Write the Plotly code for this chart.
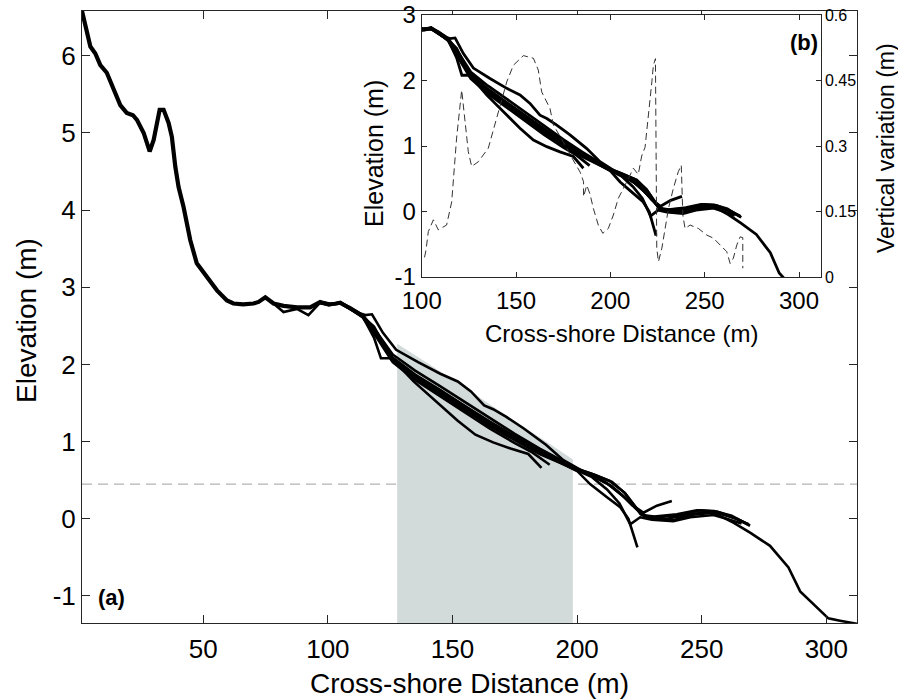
import plotly.graph_objects as go

# ---------------- data ----------------
# common back-beach part of all surveyed profiles (Elevation, m)
backshore_x = [1.35, 3.6, 4.7, 6.7, 8.7, 11.3, 14.0, 16.7, 19.3, 21.8, 23.4, 26.1, 28.5,
               30.1, 32.5, 34.1, 36.1, 37.4, 38.8, 40.1, 42.1, 44.8, 47.4, 51.4, 55.5,
               59.5, 62.1, 66.0, 70.2, 72.2, 74.9, 78.2, 82.2, 87.6, 92.9, 96.9, 100.9]
backshore_y = [6.58, 6.25, 6.12, 6.03, 5.88, 5.78, 5.58, 5.36, 5.26, 5.23, 5.17, 5.00, 4.76,
               4.91, 5.30, 5.30, 5.13, 4.95, 4.56, 4.30, 4.04, 3.61, 3.31, 3.13, 2.96,
               2.83, 2.79, 2.78, 2.79, 2.81, 2.87, 2.79, 2.76, 2.74, 2.74, 2.81, 2.77]

survey_a_x = [97, 101, 105, 109, 113, 115, 117.7, 122.1, 127.4, 136.2, 145.1, 152.1, 157.4,
              162.7, 166.3, 171.6, 178.6, 187.5, 194.5, 201.6, 207, 214, 219.3, 222.8, 225.5,
              228.1, 235.2, 242.3, 249.3, 256.4, 261.7, 268.8]
survey_a_y = [2.80, 2.78, 2.81, 2.74, 2.66, 2.64, 2.65, 2.41, 2.19, 2.03, 1.88, 1.78, 1.65,
              1.47, 1.42, 1.32, 1.17, 0.96, 0.76, 0.63, 0.57, 0.48, 0.33, 0.18, 0.06,
              0.02, 0.03, 0.05, 0.11, 0.09, 0.03, -0.07]

survey_b_x = [97, 101, 105, 109, 114, 118.5, 125.6, 134.4, 143.3, 152.1, 159.2, 166.3,
              173.3, 180.4, 185.7]
survey_b_y = [2.79, 2.77, 2.79, 2.71, 2.62, 2.49, 2.08, 1.78, 1.52, 1.27, 1.09, 0.99,
              0.91, 0.84, 0.66]

survey_c_x = [97, 101, 105, 109, 114, 118.6, 121.3, 124.9, 130, 140, 150, 160, 170, 180,
              190, 200, 205.2, 212, 217.3, 220.6, 222.6, 224.2]
survey_c_y = [2.81, 2.79, 2.80, 2.72, 2.62, 2.34, 2.08, 2.08, 1.95, 1.72, 1.52, 1.33, 1.14,
              0.96, 0.78, 0.62, 0.45, 0.28, 0.15, 0.00, -0.20, -0.37]

survey_d_x = [97, 101, 105, 109, 114, 120, 126, 135, 145, 155, 165, 175, 185, 195, 200,
              206, 212, 217, 221.3, 225.3, 230, 238.6, 245.4, 254.7, 260, 266]
survey_d_y = [2.80, 2.78, 2.80, 2.73, 2.63, 2.35, 2.06, 1.83, 1.62, 1.40, 1.20, 1.02, 0.84,
              0.70, 0.63, 0.54, 0.38, 0.20, -0.07, 0.02, -0.01, -0.03, 0.02, 0.05, 0.00, -0.06]

survey_e_x = [97, 101, 105, 109, 114, 120, 126, 135, 145, 155, 165, 175, 185, 195, 200,
              206, 212, 218, 222, 226.6, 232, 238]
survey_e_y = [2.80, 2.78, 2.79, 2.72, 2.62, 2.37, 2.09, 1.87, 1.67, 1.46, 1.25, 1.06, 0.88,
              0.72, 0.64, 0.56, 0.46, 0.31, 0.18, 0.08, 0.17, 0.23]

survey_f_x = [97, 101, 105, 109, 114, 120, 126, 135, 145, 155, 165, 175, 185, 195, 200,
              206, 212, 218.6, 225.3, 228, 238.6, 245.4, 254.7, 262.7, 269.4, 277.4, 281.4,
              284.8, 289.5, 294.8, 300.8, 305.5, 312.3]
survey_f_y = [2.80, 2.78, 2.80, 2.73, 2.63, 2.36, 2.07, 1.85, 1.64, 1.43, 1.23, 1.04, 0.86,
              0.71, 0.63, 0.57, 0.46, 0.29, 0.08, 0.02, -0.02, 0.05, 0.08, -0.05, -0.18,
              -0.35, -0.50, -0.63, -0.94, -1.11, -1.29, -1.32, -1.36]

survey_g_x = [97, 101, 105, 109, 114, 120, 126, 135, 145, 155, 165, 175, 185, 195, 200,
              206, 213, 219, 223, 226, 231, 240, 248, 255, 262, 269.4]
survey_g_y = [2.81, 2.78, 2.80, 2.74, 2.64, 2.40, 2.13, 1.92, 1.72, 1.51, 1.30, 1.10, 0.91,
              0.74, 0.65, 0.58, 0.49, 0.34, 0.18, 0.05, 0.03, 0.06, 0.11, 0.10, 0.04, -0.09]

survey_h_x = [97, 101, 105, 109, 114, 120, 126, 135, 145, 155, 165, 175, 182, 189]
survey_h_y = [2.80, 2.77, 2.79, 2.72, 2.61, 2.33, 2.03, 1.80, 1.59, 1.38, 1.17, 0.98, 0.86, 0.70]

survey_i_x = [74.9, 78.2, 82.2, 87.6, 92.2, 96.9, 101, 105, 109, 114, 120, 126, 135, 145,
              155, 165, 175, 185, 195, 200, 207, 214, 220, 224, 228, 236, 244, 252, 258,
              264, 269]
survey_i_y = [2.87, 2.79, 2.68, 2.72, 2.64, 2.80, 2.78, 2.80, 2.72, 2.62, 2.36, 2.08, 1.86,
              1.66, 1.45, 1.26, 1.07, 0.88, 0.72, 0.64, 0.54, 0.42, 0.25, 0.12, 0.03, 0.00,
              0.05, 0.09, 0.06, 0.00, -0.08]

# vertical variation between surveys (right axis of inset, m)
variation_x = [101.5, 102.3, 103.5, 106.2, 108.8, 113.2, 115.9, 116.8, 118.5, 121.2, 123.0,
               124.7, 126.5, 130.0, 135.3, 139.8, 145.1, 148.6, 153.9, 159.2, 161.8, 163.6,
               168.0, 169.8, 175.0, 180.0, 184.0, 185.8, 185.8, 187.5, 189.2, 191.0, 193.6,
               196.0, 198.9, 201.6, 204.2, 208.7, 212.2, 214.8, 216.6, 218.4, 219.3, 220.2,
               221.1, 222.0, 222.8, 223.9, 224.6, 225.5, 227.3, 229.0, 230.8, 233.4, 236.0,
               237.6, 238.4, 239.6, 242.3, 246.7, 251.1, 254.6, 258.2, 261.7, 263.5, 265.2,
               267.0, 268.8, 270.2, 270.2]
variation_v = [0.045, 0.062, 0.104, 0.131, 0.108, 0.119, 0.172, 0.218, 0.318, 0.428, 0.356,
               0.287, 0.253, 0.264, 0.295, 0.363, 0.447, 0.485, 0.507, 0.501, 0.474, 0.424,
               0.386, 0.348, 0.310, 0.270, 0.240, 0.218, 0.184, 0.210, 0.190, 0.157, 0.119,
               0.100, 0.111, 0.142, 0.180, 0.218, 0.249, 0.235, 0.277, 0.297, 0.332, 0.371,
               0.409, 0.447, 0.485, 0.500, 0.066, 0.035, 0.066, 0.111, 0.157, 0.203, 0.241,
               0.256, 0.142, 0.111, 0.119, 0.111, 0.096, 0.089, 0.073, 0.058, 0.031, 0.043,
               0.073, 0.092, 0.090, 0.020]

# shaded cross-shore section (top edge, m)
shade_x = [127.8, 140, 150, 160, 170, 180, 190, 198.3]
shade_top = [2.27, 2.02, 1.81, 1.59, 1.37, 1.16, 0.95, 0.77]

mhw_level = 0.45

main_xticks = [50, 100, 150, 200, 250, 300]
main_yticks = [-1, 0, 1, 2, 3, 4, 5, 6]
main_yticklabels = ["-1", "0", "1", "2", "3", "4", "5", "6"]
inset_xticks = [100, 150, 200, 250, 300]
inset_yticks = [-1, 0, 1, 2, 3]
inset_yticklabels = ["-1", "0", "1", "2", "3"]
var_ticks = [0, 0.15, 0.3, 0.45, 0.6]
var_ticklabels = ["0", "0.15", "0.3", "0.45", "0.6"]

MAIN_X_RANGE = [1.35, 312.3]
MAIN_Y_RANGE = [-1.35, 6.58]
INSET_X_RANGE = [100, 311.5]
INSET_Y_RANGE = [-1, 3]
VAR_RANGE = [0, 0.6]

# ---------------- layout geometry ----------------
W, H = 898, 699
ML, MR, MT, MB = 82, 41, 11, 76
PW, PH = W - ML - MR, H - MT - MB


def px(xp):
    return (xp - ML) / PW


def py(yp):
    return 1 - (yp - MT) / PH


FONT = "Liberation Sans, Arial, Helvetica, sans-serif"
AX = "#262626"

surveys = [
    (survey_a_x, survey_a_y), (survey_b_x, survey_b_y), (survey_c_x, survey_c_y),
    (survey_d_x, survey_d_y), (survey_e_x, survey_e_y), (survey_f_x, survey_f_y),
    (survey_g_x, survey_g_y), (survey_h_x, survey_h_y), (survey_i_x, survey_i_y),
]

fig = go.Figure()

# shaded section (fill down below the axis floor, clipped by the axes)
fig.add_trace(go.Scatter(
    x=shade_x + shade_x[::-1],
    y=shade_top + [MAIN_Y_RANGE[0] - 1] * len(shade_x),
    fill="toself", fillcolor="#d3dbda", line=dict(width=0), mode="lines",
    hoverinfo="skip", showlegend=False, xaxis="x", yaxis="y"))

# main profiles
fig.add_trace(go.Scatter(x=backshore_x, y=backshore_y, mode="lines",
                         line=dict(color="black", width=4.2), showlegend=False,
                         xaxis="x", yaxis="y"))
for sx, sy in surveys:
    fig.add_trace(go.Scatter(x=sx, y=sy, mode="lines",
                             line=dict(color="black", width=2.6), showlegend=False,
                             xaxis="x", yaxis="y"))

# inset: variation (right axis) then profiles
fig.add_trace(go.Scatter(x=variation_x, y=variation_v, mode="lines",
                         line=dict(color="#333333", width=1, dash="7px,4px"),
                         showlegend=False, xaxis="x2", yaxis="y3"))
fig.add_trace(go.Scatter(x=backshore_x, y=backshore_y, mode="lines",
                         line=dict(color="black", width=3.4), showlegend=False,
                         xaxis="x2", yaxis="y2"))
for sx, sy in surveys:
    fig.add_trace(go.Scatter(x=sx, y=sy, mode="lines",
                             line=dict(color="black", width=2.8), showlegend=False,
                             xaxis="x2", yaxis="y2"))

# dashed reference levels
fig.add_shape(type="line", xref="x domain", yref="y", x0=0, x1=1, y0=mhw_level, y1=mhw_level,
              line=dict(color="#b3b3b3", width=1.4, dash="10px,6px"), layer="below")
fig.add_shape(type="line", xref="x2 domain", yref="y2", x0=0, x1=1, y0=mhw_level, y1=mhw_level,
              line=dict(color="#b3b3b3", width=1.4, dash="10px,6px"), layer="below")


def axis(size, **kw):
    d = dict(showline=True, linecolor=AX, linewidth=1, ticks="inside",
             tickcolor=AX, showgrid=False, zeroline=False, mirror="ticks",
             automargin=False, tickfont=dict(family=FONT, size=size, color="black"))
    d.update(kw)
    return d


ix0, ix1 = px(421.7), px(820.7)
iy0, iy1 = py(277), py(15)

fig.update_layout(
    width=W, height=H,
    margin=dict(l=ML, r=MR, t=MT, b=MB, autoexpand=False),
    paper_bgcolor="white", plot_bgcolor="white",
    font=dict(family=FONT, color="black"),
    showlegend=False,
    xaxis=axis(26, range=MAIN_X_RANGE, tickvals=main_xticks, ticklen=8,
               domain=[0, 1], anchor="y", ticklabelstandoff=3),
    yaxis=axis(26, range=MAIN_Y_RANGE, tickvals=main_yticks, ticktext=main_yticklabels,
               ticklen=8, domain=[0, 1], anchor="x"),
    xaxis2=axis(24, range=INSET_X_RANGE, tickvals=inset_xticks, ticklen=5,
                domain=[ix0, ix1], anchor="y2", ticklabelstandoff=2),
    yaxis2=axis(24, range=INSET_Y_RANGE, tickvals=inset_yticks, ticktext=inset_yticklabels,
                ticklen=5, domain=[iy0, iy1], anchor="x2", mirror=False),
    yaxis3=axis(16, range=VAR_RANGE, tickvals=var_ticks, ticktext=var_ticklabels, ticklen=5,
                overlaying="y2", anchor="x2", side="right", mirror=False),
)

ann = [
    dict(text="Cross-shore Distance (m)", x=px(469), y=py(683), font=dict(size=28)),
    dict(text="Elevation (m)", x=px(26), y=py(320), font=dict(size=28), textangle=-90),
    dict(text="Cross-shore Distance (m)", x=px(621), y=py(333), font=dict(size=24)),
    dict(text="Elevation (m)", x=px(374), y=py(154), font=dict(size=25), textangle=-90),
    dict(text="Vertical variation (m)", x=px(886), y=py(148), font=dict(size=23), textangle=-90),
    dict(text="<b>(a)</b>", x=px(111), y=py(597), font=dict(size=22)),
    dict(text="<b>(b)</b>", x=px(804), y=py(42), font=dict(size=22)),
]
for a in ann:
    a.update(xref="paper", yref="paper", showarrow=False, xanchor="center", yanchor="middle")
    a["font"] = dict(family=FONT, color="black", **a["font"])
    fig.add_annotation(**a)

fig.write_html("out.html")
